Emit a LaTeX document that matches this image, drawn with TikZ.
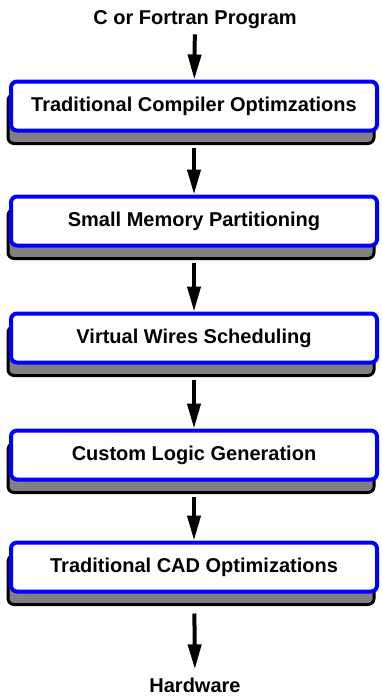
\documentclass[tikz,border=0pt]{standalone}
\usepackage{fontspec}
\setmainfont{Liberation Sans}
\usetikzlibrary{arrows.meta,shadows}
\definecolor{rim}{HTML}{0000FF}
\definecolor{slab}{HTML}{808080}
\tikzset{
  stage/.style={draw=rim,line width=4pt,fill=white,rounded corners=6pt,
    minimum width=366pt,minimum height=49pt,font=\bfseries\fontsize{20}{24}\selectfont,
    general shadow={shadow xshift=-3pt,shadow yshift=-13pt,fill=slab,draw=black,line width=3pt}},
  io/.style={font=\bfseries\fontsize{20}{24}\selectfont,inner sep=0pt},
  flow/.style={-{Triangle[length=25pt,width=13pt]},line width=4pt},
}
\begin{document}
\begin{tikzpicture}[x=1pt,y=-1pt]
  \useasboundingbox (0,0) rectangle (381,696);
  % input and output
  \node[io,anchor=base] (src) at (195,24) {C or Fortran Program};
  \node[io,anchor=base] (hw) at (195,692) {Hardware};
  % compilation stages
  \node[stage] (s1) at (194,106) {Traditional Compiler Optimzations};
  \node[stage] (s2) at (194,221) {Small Memory Partitioning};
  \node[stage] (s3) at (194,338) {Virtual Wires Scheduling};
  \node[stage] (s4) at (194,455) {Custom Logic Generation};
  \node[stage] (s5) at (194,567) {Traditional CAD Optimizations};
  % arrows
  \draw[flow,shorten <=6pt] (src) -- (s1);
  \foreach \a/\b in {s1/s2,s2/s3,s3/s4,s4/s5}
    \draw[flow,shorten <=15pt] (\a) -- (\b);
  \draw[flow,shorten <=20pt,shorten >=8pt] (s5) -- (hw);
\end{tikzpicture}
\end{document}
